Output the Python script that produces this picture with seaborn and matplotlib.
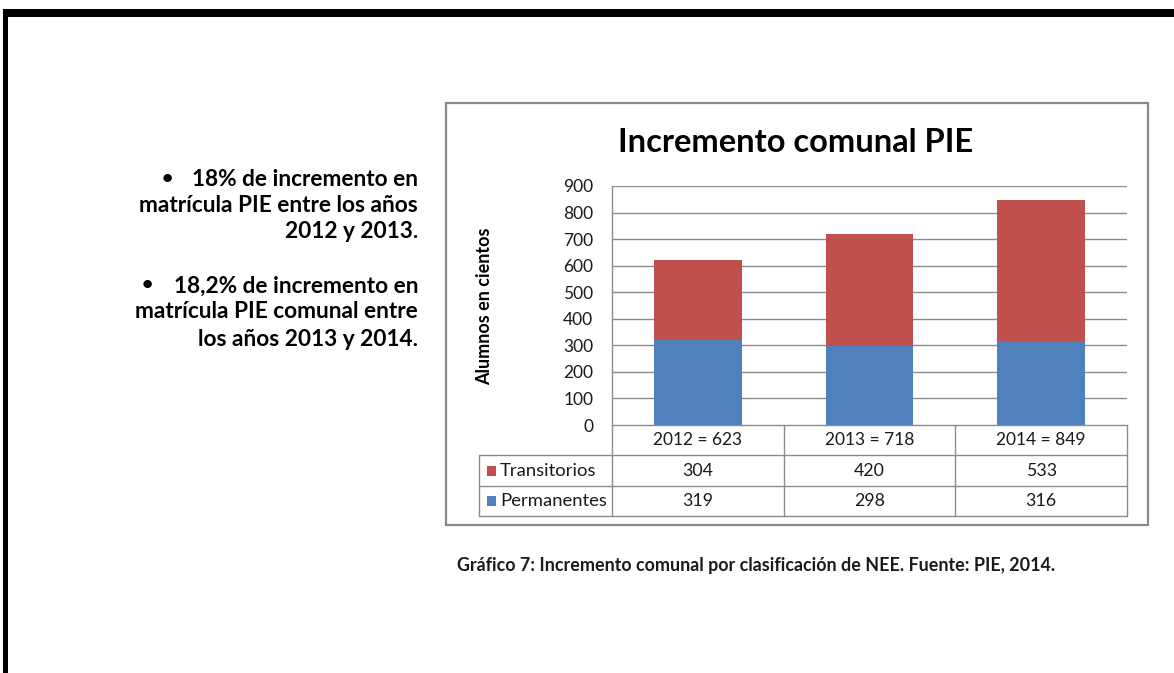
import matplotlib
matplotlib.use("Agg")
import matplotlib.pyplot as plt
import matplotlib.transforms as mtransforms
from matplotlib.patches import Rectangle
import seaborn as sns
import numpy as np

# Data
years = ["2012", "2013", "2014"]
permanentes = np.array([319, 298, 316])
transitorios = np.array([304, 420, 533])
totales = permanentes + transitorios
categorias = [f"{y} = {t}" for y, t in zip(years, totales)]
series_names = ["Transitorios", "Permanentes"]
y_ticks = list(range(0, 1000, 100))

RED = "#C0504D"
BLUE = "#4F81BD"
GRID = "#8C8C8C"

sns.set_theme(style="white")
plt.rcParams["font.family"] = ["Lato", "DejaVu Sans"]

W, H = 1174, 673
fig = plt.figure(figsize=(W / 100, H / 100), dpi=100)
fig.patch.set_facecolor("white")

# Full-figure overlay in pixel coordinates for frame, box, table and text
ov = fig.add_axes([0, 0, 1, 1], zorder=0)
ov.set_xlim(0, W)
ov.set_ylim(H, 0)
ov.axis("off")

# Slide frame (top and left black bars)
ov.add_patch(Rectangle((3, 9), W - 3, 8, facecolor="black", edgecolor="none"))
ov.add_patch(Rectangle((3, 9), 5, H - 9, facecolor="black", edgecolor="none"))

# Chart box
ov.add_patch(Rectangle((446, 103), 702, 422, facecolor="white",
                       edgecolor="#8A8A8A", linewidth=1.6))

# Plot area
px_l, px_r, px_t, px_b = 612, 1127, 186, 425
ax = fig.add_axes([px_l / W, 1 - px_b / H, (px_r - px_l) / W, (px_b - px_t) / H],
                  zorder=2)
ax.patch.set_alpha(0)

sns.barplot(x=categorias, y=totales, color=RED, saturation=1, width=0.51,
            linewidth=0, ax=ax, zorder=3)
sns.barplot(x=categorias, y=permanentes, color=BLUE, saturation=1, width=0.51,
            linewidth=0, ax=ax, zorder=4)

ax.set_xlim(-0.5, 2.5)
ax.set_ylim(0, 900)
ax.set_yticks(y_ticks)
ax.set_yticklabels([str(v) for v in y_ticks], fontsize=12.5, color="#1a1a1a")
ax.tick_params(axis="y", length=0, pad=13.5)
ax.set_xticks([])
ax.set_xlabel("")
ax.set_ylabel("")
for yv in y_ticks[1:]:
    ax.axhline(yv, color=GRID, linewidth=1.0, zorder=1)
for s in ["top", "right", "bottom"]:
    ax.spines[s].set_visible(False)
ax.spines["left"].set_color(GRID)
ax.spines["left"].set_linewidth(1.0)

# Title and axis label
ov.text(796, 143, "Incremento comunal PIE", ha="center", va="center",
        fontsize=23.5, fontweight="bold", color="black")
ov.text(485, 306, "Alumnos en cientos", ha="center", va="center",
        rotation=90, fontsize=13, fontweight="bold", color="black")

# Data table under the axis
tbl_l = 479
rows_y = [425, 455, 486, 516]
lc = GRID
ov.plot([px_l, px_r], [rows_y[0], rows_y[0]], color=lc, lw=1.0)
for yy in rows_y[1:]:
    ov.plot([tbl_l, px_r], [yy, yy], color=lc, lw=1.0)
ov.plot([tbl_l, tbl_l], [rows_y[1], rows_y[3]], color=lc, lw=1.0)
ov.plot([px_l, px_l], [rows_y[0], rows_y[3]], color=lc, lw=1.0)
col_w = (px_r - px_l) / 3
for i in range(1, 4):
    xx = px_l + i * col_w
    ov.plot([xx, xx], [rows_y[0], rows_y[3]], color=lc, lw=1.0)

blend = mtransforms.blended_transform_factory(ax.transData, ov.transData)
mid = [(rows_y[i] + rows_y[i + 1]) / 2 for i in range(3)]
for i, lab in enumerate(categorias):
    ax.text(i, mid[0], lab, transform=blend, ha="center", va="center",
            fontsize=12.5, color="#1a1a1a", clip_on=False)
for i, v in enumerate(transitorios):
    ax.text(i, mid[1], str(v), transform=blend, ha="center", va="center",
            fontsize=12.8, color="#1a1a1a", clip_on=False)
for i, v in enumerate(permanentes):
    ax.text(i, mid[2], str(v), transform=blend, ha="center", va="center",
            fontsize=12.8, color="#1a1a1a", clip_on=False)

# Legend keys inside the table
for name, color, ym in zip(series_names, [RED, BLUE], mid[1:]):
    ov.add_patch(Rectangle((487, ym - 5), 9, 10, facecolor=color, edgecolor="none"))
    ov.text(500, ym, name, ha="left", va="center", fontsize=13.3, color="#1a1a1a")

# Side notes
notes = [
    ("18% de incremento en", 180),
    ("matrícula PIE entre los años", 205),
    ("2012 y 2013.", 231),
    ("18,2% de incremento en", 286),
    ("matrícula PIE comunal entre", 312),
    ("los años 2013 y 2014.", 339),
]
for txt, yy in notes:
    ov.text(418, yy, txt, ha="right", va="center", fontsize=16.3,
            fontweight="bold", color="black")
for bx, by in [(167, 178), (147, 284)]:
    ov.text(bx, by, "\u2022", ha="center", va="center", fontsize=14,
            fontweight="bold", color="black")

# Caption
ov.text(457, 566, "Gráfico 7: Incremento comunal por clasificación de NEE. Fuente: PIE, 2014.",
        ha="left", va="center", fontsize=12.9, fontweight="bold", color="#1a1a1a")

fig.savefig("out.png", dpi=100, facecolor="white")
